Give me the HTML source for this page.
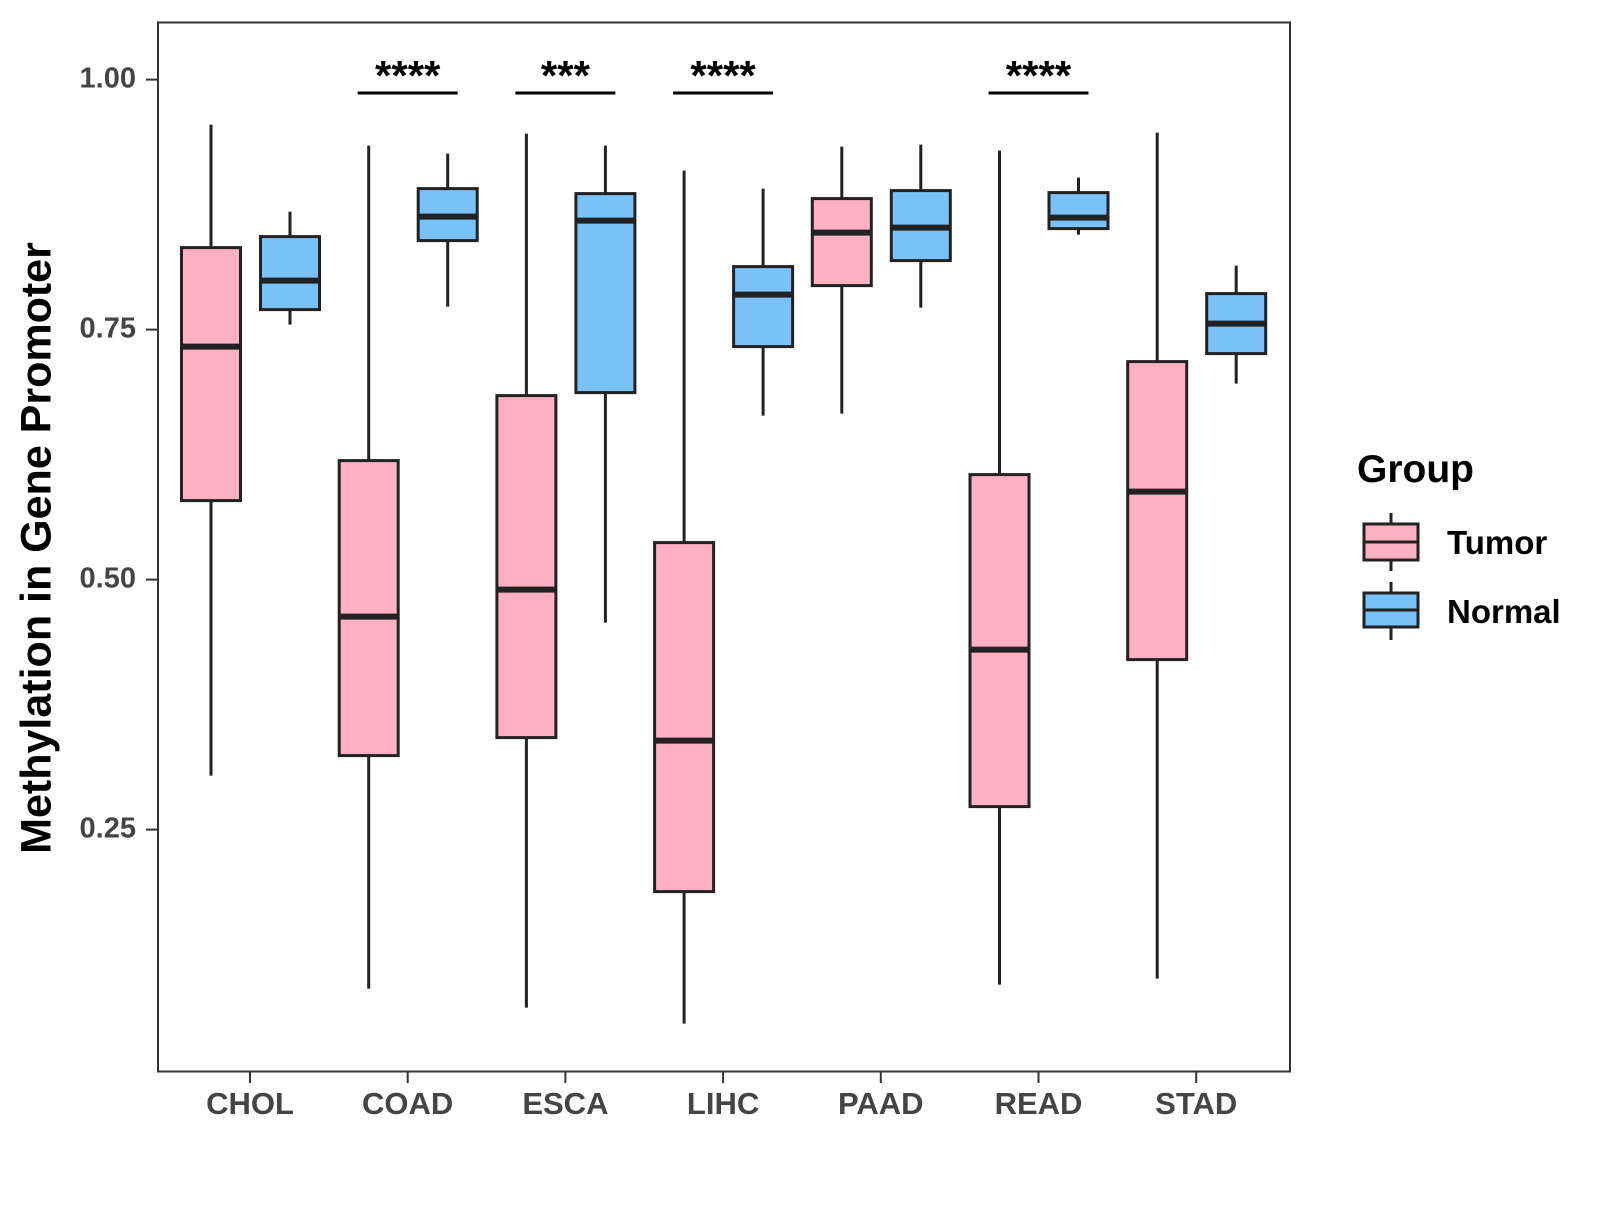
<!DOCTYPE html>
<html><head><meta charset="utf-8"><style>
html,body{margin:0;padding:0;background:#fff;}
svg text{font-family:"Liberation Sans",Arial,sans-serif;font-weight:bold;}
</style></head><body>
<svg id="chart" width="1600" height="1200" xmlns="http://www.w3.org/2000/svg">
<rect x="158" y="22.5" width="1132" height="1049" fill="#fff" stroke="#333" stroke-width="2"/>
<g id="yaxis"></g>
<g id="xaxis"></g>
<g id="boxes"></g>
<g id="sig"></g>
<text x="39" y="548" font-size="43" text-anchor="middle" dominant-baseline="middle" transform="rotate(-90 39 548)" fill="#000">Methylation in Gene Promoter</text>
<g>
<text x="1357" y="482" font-size="39" fill="#000">Group</text>
<g>
<line x1="1391" y1="513" x2="1391" y2="571" stroke="#222" stroke-width="3"/>
<rect x="1364" y="524" width="54" height="36" fill="#FFB0C4" stroke="#222" stroke-width="3"/>
<line x1="1364" y1="542" x2="1418" y2="542" stroke="#222" stroke-width="3"/>
<text x="1447" y="554" font-size="33" fill="#000">Tumor</text></g>
<g>
<line x1="1391" y1="582" x2="1391" y2="640" stroke="#222" stroke-width="3"/>
<rect x="1364" y="593" width="54" height="34" fill="#78C2F8" stroke="#222" stroke-width="3"/>
<line x1="1364" y1="610" x2="1418" y2="610" stroke="#222" stroke-width="3"/>
<text x="1447" y="623" font-size="33" fill="#000">Normal</text></g>
</g>
</svg>
<script>
const categories=["CHOL","COAD","ESCA","LIHC","PAAD","READ","STAD"];
// [whiskerLow, q1, median, q3, whiskerHigh]
const tumor=[[0.304,0.579,0.733,0.832,0.955],[0.091,0.324,0.463,0.619,0.934],[0.072,0.342,0.490,0.684,0.946],[0.056,0.188,0.339,0.537,0.909],[0.666,0.794,0.847,0.881,0.933],[0.095,0.273,0.430,0.605,0.929],[0.101,0.420,0.588,0.718,0.947]];
const normal=[[0.755,0.770,0.799,0.843,0.868],[0.773,0.839,0.863,0.891,0.926],[0.457,0.687,0.859,0.886,0.934],[0.664,0.733,0.785,0.813,0.891],[0.772,0.819,0.852,0.889,0.935],[0.845,0.851,0.862,0.887,0.902],[0.696,0.726,0.756,0.786,0.814]];
const yTicks=[0.25,0.5,0.75,1.0];
const yTickLabels=["0.25","0.50","0.75","1.00"];
const sigCats=["COAD","ESCA","LIHC","READ"];
const sigLabels=["****","***","****","****"];
const NS="http://www.w3.org/2000/svg";
function y(v){return 79.6+(1-v)*1000;}
function x(i){return 250+i*157.7;}
function mk(tag,attrs,parent,text){const e=document.createElementNS(NS,tag);for(const k in attrs)e.setAttribute(k,attrs[k]);if(text!==undefined)e.textContent=text;parent.appendChild(e);return e;}
const ya=document.getElementById('yaxis');
yTicks.forEach((t,i)=>{
 const l=mk('line',{x1:146,x2:158,y1:y(t),y2:y(t),stroke:'#333','stroke-width':2},ya);
 
 
 const tx=mk('text',{x:136,y:y(t),'font-size':29,fill:'#444','text-anchor':'end','dominant-baseline':'middle'},ya,yTickLabels[i]);
 
 
});
const xa=document.getElementById('xaxis');
categories.forEach((c,i)=>{
 const l=mk('line',{x1:x(i),x2:x(i),y1:1071,y2:1083,stroke:'#333','stroke-width':2},xa);
 
 
 const tx=mk('text',{x:x(i),y:1106,'font-size':31,fill:'#444','text-anchor':'middle','dominant-baseline':'middle'},xa,c);
 
 
});
const bg=document.getElementById('boxes');
function box(cx,d,fill,name){
 const g=mk('g',{},bg);
 
 
 const w=59;
 mk('line',{x1:cx,x2:cx,y1:y(d[0]),y2:y(d[4]),stroke:'#222','stroke-width':3},g);
 mk('rect',{x:cx-w/2,y:y(d[3]),width:w,height:y(d[1])-y(d[3]),fill:fill,stroke:'#222','stroke-width':3},g);
 mk('line',{x1:cx-w/2,x2:cx+w/2,y1:y(d[2]),y2:y(d[2]),stroke:'#222','stroke-width':6},g);
}
categories.forEach((c,i)=>{
 box(x(i)-39,tumor[i],'#FFB0C4','box-tumor-'+c.toLowerCase());
 box(x(i)+40,normal[i],'#78C2F8','box-normal-'+c.toLowerCase());
});
const sg=document.getElementById('sig');
sigCats.forEach((c,k)=>{
 const i=categories.indexOf(c);
 const l=mk('line',{x1:x(i)-50,x2:x(i)+50,y1:93,y2:93,stroke:'#000','stroke-width':3},sg);
 
 
 const t=mk('text',{x:x(i),y:90,'font-size':42,fill:'#000','text-anchor':'middle'},sg,sigLabels[k]);
 
 
});
</script>
</body></html>
